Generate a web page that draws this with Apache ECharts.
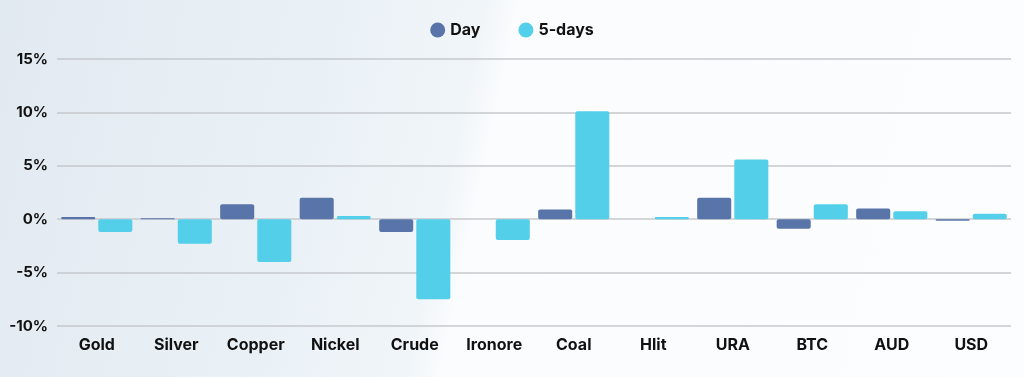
<!DOCTYPE html>
<html>
<head>
<meta charset="utf-8">
<script src="https://cdn.jsdelivr.net/npm/echarts@6/dist/echarts.min.js"></script>
<style>
  html, body { margin: 0; padding: 0; }
  body {
    width: 1024px; height: 377px;
    background: linear-gradient(102deg, #e2eaf1 0%, #eaf1f6 30%, #f0f5f9 44%, #fafcfd 47%, #fcfdfe 100%);
  }
  #chart { width: 1024px; height: 377px; }
</style>
</head>
<body>
<div id="chart"></div>
<script>
// 카테고리와 값 (단위: %)
const categories = ["Gold", "Silver", "Copper", "Nickel", "Crude", "Ironore", "Coal", "Hlit", "URA", "BTC", "AUD", "USD"];
const dayValues = [0.2, 0.1, 1.4, 2.0, -1.2, 0.0, 0.9, 0.0, 2.0, -0.9, 1.0, -0.15];
const fiveDayValues = [-1.2, -2.3, -4.0, 0.3, -7.5, -1.95, 10.1, 0.2, 5.6, 1.4, 0.75, 0.5];
const yTicks = [-10, -5, 0, 5, 10, 15];

const font = "Inter, Lato, sans-serif";

const chart = echarts.init(document.getElementById("chart"));

chart.setOption({
    backgroundColor: "transparent",
    textStyle: { fontFamily: font },
    legend: {
        top: 17,
        left: "center",
        icon: "circle",
        itemWidth: 15,
        itemHeight: 15,
        itemGap: 38,
        textStyle: { fontFamily: font, fontWeight: 700, fontSize: 16, color: "#111" },
        data: ["Day", "5-days"],
    },
    grid: { left: 57, right: 13, top: 59, bottom: 51 },
    xAxis: {
        type: "category",
        data: categories,
        axisLine: { show: false },
        axisTick: { show: false },
        axisLabel: { margin: 11, fontFamily: font, fontWeight: 700, fontSize: 16, color: "#111" },
    },
    yAxis: {
        type: "value",
        min: yTicks[0],
        max: yTicks[yTicks.length - 1],
        interval: 5,
        axisLabel: {
            formatter: "{value}%",
            margin: 9,
            fontFamily: font, fontWeight: 700, fontSize: 15, color: "#111",
        },
        splitLine: { lineStyle: { color: "#c6c9cc", width: 1.5 } },
    },
    series: [
        {
            name: "Day",
            type: "bar",
            data: dayValues,
            barGap: "9%",
            barCategoryGap: "10.5%",
            itemStyle: { color: "#5874a9", borderRadius: 2 },
        },
        {
            name: "5-days",
            type: "bar",
            data: fiveDayValues,
            itemStyle: { color: "#54cfe9", borderRadius: 2 },
        },
    ],
});
</script>
</body>
</html>
